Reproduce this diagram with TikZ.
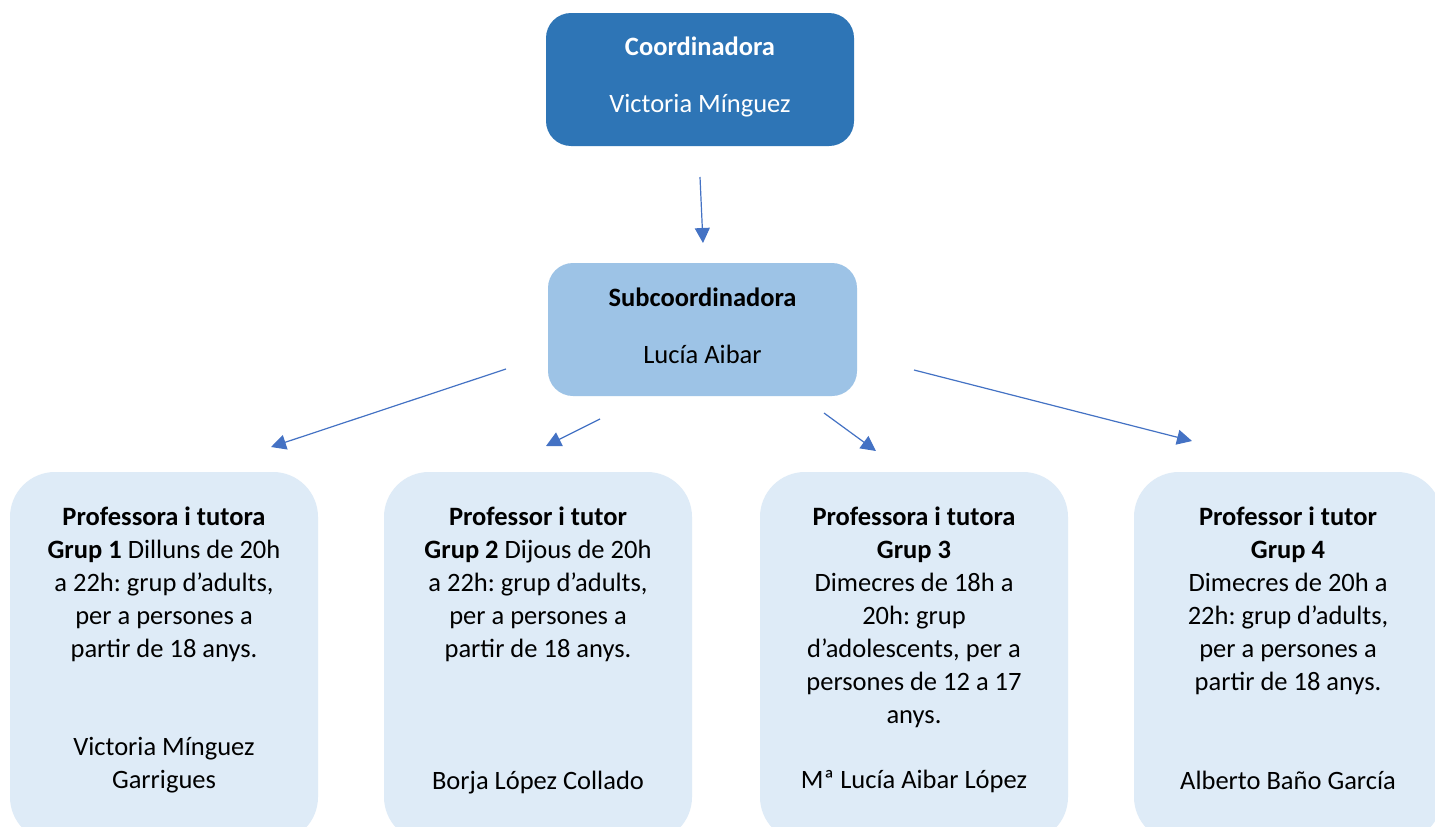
\documentclass[tikz,border=0pt]{standalone}
\usepackage{fontspec}
\setmainfont{Carlito}
\frenchspacing
\usetikzlibrary{arrows.meta}
\definecolor{coordblue}{HTML}{2E75B6}
\definecolor{subblue}{HTML}{9DC3E6}
\definecolor{paleblue}{HTML}{DEEBF7}
\definecolor{arrowblue}{HTML}{4472C4}
\tikzset{
  txt/.style={font=\fontsize{26.5}{33}\selectfont\frenchspacing, inner sep=0pt, align=center},
  headbox/.style={fill=coordblue, draw=none, rounded corners=25pt, minimum width=308pt, minimum height=133pt, inner sep=0pt},
  subbox/.style={fill=subblue, draw=none, rounded corners=25pt, minimum width=309pt, minimum height=133pt, inner sep=0pt},
  groupbox/.style={fill=paleblue, draw=none, rounded corners=45pt, minimum width=308pt, minimum height=370pt, inner sep=0pt},
  link/.style={draw=arrowblue, line width=1.2pt, -{Triangle[length=15pt,width=15pt]}}
}
\begin{document}
\begin{tikzpicture}[x=1pt,y=1pt]
\useasboundingbox (0,0) rectangle (1435,-827);
\clip (0,0) rectangle (1435,-827);
\fill[white] (0,0) rectangle (1435,-827);

% top boxes
\node[headbox] (coord) at (700,-79.5) {};
\node[txt, anchor=base, text=white] (coordt) at (700,-55.5) {\textbf{Coordinadora}};
\node[txt, anchor=base, text=white] (coordn) at (700,-112.5) {Victoria Mínguez};

\node[subbox] (sub) at (702.5,-329.5) {};
\node[txt, anchor=base] (subt) at (702.5,-306.5) {\textbf{Subcoordinadora}};
\node[txt, anchor=base] (subn) at (702.5,-363.5) {Lucía Aibar};

% group boxes
\node[groupbox] (g1) at (164,-657) {};
\node[groupbox] (g2) at (538,-657) {};
\node[groupbox] (g3) at (914,-657) {};
\node[groupbox] (g4) at (1288,-657) {};

\node[txt, anchor=north] (g1t) at (164,-502.5) {\strut\textbf{Professora i tutora}\\ \textbf{Grup 1} Dilluns de 20h\\ a 22h: grup d’adults,\\ per a persones a\\ partir de 18 anys.};
\node[txt, anchor=south] (g1n) at (164,-799) {Victoria Mínguez\\ Garrigues\strut};

\node[txt, anchor=north] (g2t) at (538,-502.5) {\strut\textbf{Professor i tutor}\\ \textbf{Grup 2} Dijous de 20h\\ a 22h: grup d’adults,\\ per a persones a\\ partir de 18 anys.};
\node[txt, anchor=south] (g2n) at (538,-800) {Borja López Collado\strut};

\node[txt, anchor=north] (g3t) at (914,-502.5) {\strut\textbf{Professora i tutora}\\ \textbf{Grup 3}\\ Dimecres de 18h a\\ 20h: grup\\ d’adolescents, per a\\ persones de 12 a 17\\ anys.};
\node[txt, anchor=south] (g3n) at (914,-799) {Mª Lucía Aibar López\strut};

\node[txt, anchor=north] (g4t) at (1288,-502.5) {\strut\textbf{Professor i tutor}\\ \textbf{Grup 4}\\ Dimecres de 20h a\\ 22h: grup d’adults,\\ per a persones a\\ partir de 18 anys.};
\node[txt, anchor=south] (g4n) at (1288,-800) {Alberto Baño García\strut};

% connectors (free-floating in the reference)
\coordinate (a1s) at (700,-177);
\coordinate (a1e) at (703,-243);
\coordinate (a2s) at (506,-369);
\coordinate (a2e) at (271,-447);
\coordinate (a3s) at (600,-419);
\coordinate (a3e) at (546,-446);
\coordinate (a4s) at (824,-413);
\coordinate (a4e) at (876,-451);
\coordinate (a5s) at (914,-370);
\coordinate (a5e) at (1192,-441);
\draw[link] (a1s) -- (a1e);
\draw[link] (a2s) -- (a2e);
\draw[link] (a3s) -- (a3e);
\draw[link] (a4s) -- (a4e);
\draw[link] (a5s) -- (a5e);
\end{tikzpicture}
\end{document}
